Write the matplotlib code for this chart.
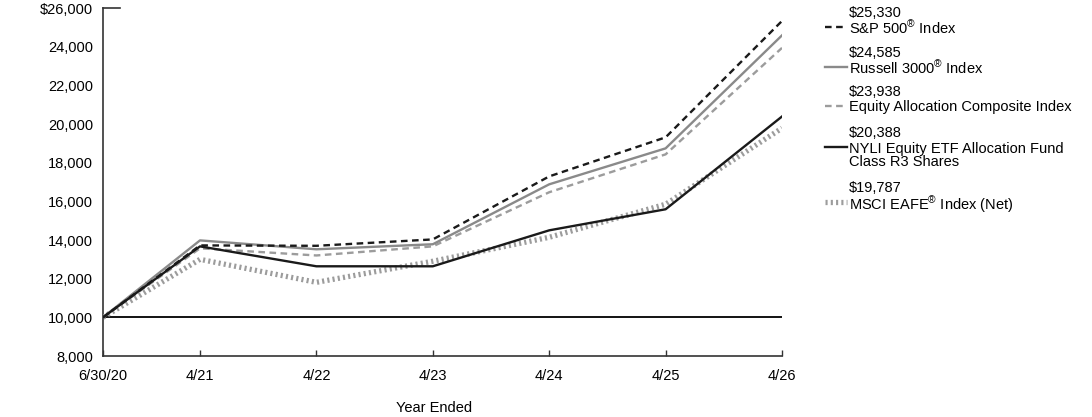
import matplotlib
matplotlib.use("Agg")
import matplotlib.pyplot as plt
from matplotlib.lines import Line2D
from matplotlib.ticker import FuncFormatter

plt.rcParams['font.family'] = ['Liberation Sans', 'DejaVu Sans']
plt.rcParams['mathtext.fontset'] = 'custom'
plt.rcParams['mathtext.rm'] = 'Liberation Sans'
plt.rcParams['mathtext.default'] = 'rm'

x_labels = ["6/30/20", "4/21", "4/22", "4/23", "4/24", "4/25", "4/26"]
x_months = [0, 10, 22, 34, 46, 58, 70]

sp500 = [10000, 13720, 13700, 14030, 17290, 19310, 25330]
russell = [10000, 13980, 13520, 13780, 16880, 18740, 24585]
composite = [10000, 13570, 13200, 13670, 16470, 18430, 23938]
nyli = [10000, 13670, 12640, 12640, 14500, 15590, 20388]
msci = [10000, 13000, 11810, 12900, 14140, 15850, 19787]

names = ["S&P 500$^{\u00ae}$ Index", "Russell 3000$^{\u00ae}$ Index",
         "Equity Allocation Composite Index",
         "NYLI Equity ETF Allocation Fund\nClass R3 Shares",
         "MSCI EAFE$^{\u00ae}$ Index (Net)"]
finals = ["\\$25,330", "\\$24,585", "\\$23,938", "\\$20,388", "\\$19,787"]

dark = "#1a1a1a"
gray = "#8a8a8a"
lgray = "#9c9c9c"

styles = [
    dict(color=dark, lw=1.7, ls=(0, (2.8, 1.9))),
    dict(color=gray, lw=1.7, ls='-'),
    dict(color=lgray, lw=1.7, ls=(0, (2.8, 1.9))),
    dict(color=dark, lw=1.7, ls='-'),
    dict(color=lgray, lw=3.8, ls=(0, (0.4, 0.6))),
]
series = [sp500, russell, composite, nyli, msci]

FS = 10.5
fig = plt.figure(figsize=(10.92, 4.17), dpi=100)
W, H = 1092, 417
left, right, top, bottom = 103, 782, 8, 356
ax = fig.add_axes([left / W, 1 - bottom / H, (right - left) / W, (bottom - top) / H])

ax.axhline(10000, color='black', lw=1.3, zorder=1)
for idx in [4, 2, 1, 0, 3]:
    ax.plot(x_months, series[idx], **styles[idx], zorder=3 + (idx == 3))

ax.set_xlim(0, 70)
ax.set_ylim(8000, 26000)
ax.set_yticks(range(8000, 26001, 2000))
ax.yaxis.set_major_formatter(FuncFormatter(lambda v, p: ("\\$" if v == 26000 else "") + f"{int(v):,}"))
ax.set_xticks(x_months)
ax.set_xticklabels(x_labels)
ax.tick_params(axis='y', length=0, pad=7, labelsize=FS)
ax.tick_params(axis='x', direction='in', length=4.5, width=1, pad=9, labelsize=FS, color='#333333')
for s in ['top', 'right']:
    ax.spines[s].set_visible(False)
for s in ['left', 'bottom']:
    ax.spines[s].set_color('#333333')
    ax.spines[s].set_linewidth(1.2)
# small top tick at $26,000
ax.plot([0, 1.8], [26000, 26000], color='#333333', lw=1.2, clip_on=False)

fig.text(434 / W, 1 - 408 / H, "Year Ended", ha='center', va='center', fontsize=FS)

# legend (manual)
value_y = [13, 53, 92, 133, 188]
tx = 849
for i in range(5):
    vy = value_y[i]
    fig.text(tx / W, 1 - vy / H, finals[i], ha='left', va='center', fontsize=FS)
    ny = vy + 14
    for k, ln in enumerate(names[i].split("\n")):
        fig.text(tx / W, 1 - (ny + 13.5 * k) / H, ln, ha='left', va='center_baseline', fontsize=FS)
    st = styles[i]
    fig.add_artist(Line2D([825 / W, 847 / W], [1 - ny / H, 1 - ny / H], transform=fig.transFigure,
                          color=st['color'], lw=st['lw'], ls=st['ls']))

fig.savefig("out.png", dpi=100)
